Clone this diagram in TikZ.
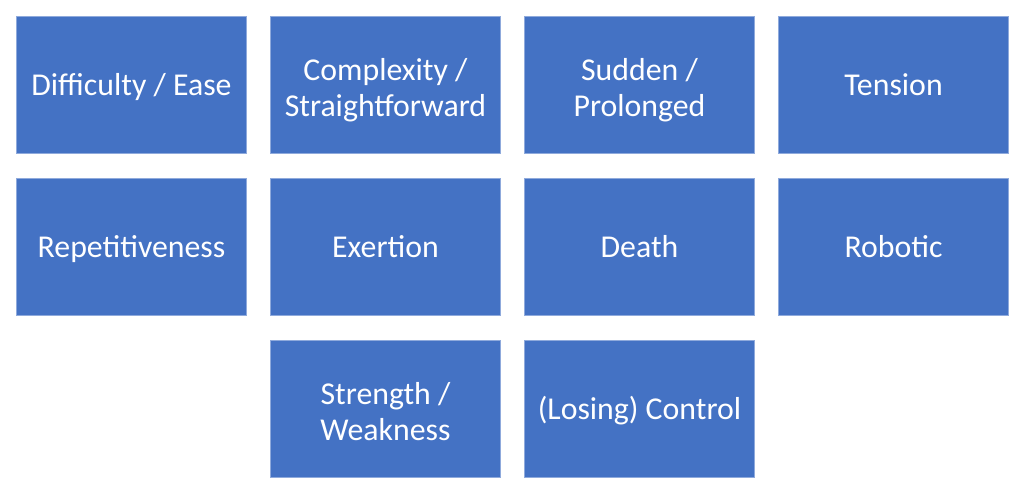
\documentclass[tikz,border=0pt]{standalone}
\usepackage{fontspec}
\setmainfont{Carlito}
\definecolor{boxblue}{HTML}{4472C4}
\definecolor{boxedge}{HTML}{8FAADC}
\newcommand{\toplift}{\rule{0pt}{38.5pt}}
\tikzset{
  cell/.style={draw=boxedge, line width=0.8pt, fill=boxblue, text=white,
    minimum width=230pt, minimum height=137pt, inner sep=0pt, align=center,
    font=\fontsize{31.8}{35.5}\selectfont,
    execute at begin node=\rule{0pt}{33pt}, execute at end node=\strut}
}
\begin{document}
\begin{tikzpicture}[x=1pt,y=-1pt]
\useasboundingbox (0,0) rectangle (1024,500);
\node[cell] (a1) at (131.5,84.5) {Difficulty / Ease};
\node[cell] (a2) at (385.5,84.5) {\toplift Complexity /\\Straightforward};
\node[cell] (a3) at (639.5,84.5) {\toplift Sudden /\\Prolonged};
\node[cell] (a4) at (893.5,84.5) {Tension};
\node[cell] (b1) at (131.5,246.5) {Repetitiveness};
\node[cell] (b2) at (385.5,246.5) {Exertion};
\node[cell] (b3) at (639.5,246.5) {Death};
\node[cell] (b4) at (893.5,246.5) {Robotic};
\node[cell] (c2) at (385.5,408.5) {\toplift Strength /\\Weakness};
\node[cell] (c3) at (639.5,408.5) {(Losing) Control};
\end{tikzpicture}
\end{document}
